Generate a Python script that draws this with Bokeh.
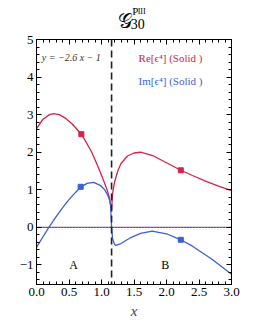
from bokeh.plotting import figure
from bokeh.models import Label, Range1d, LinearAxis, FixedTicker, Span
from bokeh.layouts import column
from bokeh.embed import file_html
from bokeh.resources import INLINE

# --- data ---
re_left_x = [0, 0.1, 0.2, 0.26, 0.35, 0.45, 0.55, 0.69, 0.75, 0.85, 0.95, 1.02, 1.09, 1.12, 1.14, 1.155]
re_left_y = [2.63, 2.88, 3.0, 3.03, 3.0, 2.9, 2.75, 2.48, 2.31, 2.0, 1.6, 1.3, 0.98, 0.8, 0.6, 0.45]
re_right_x = [1.155, 1.17, 1.2, 1.25, 1.3, 1.4, 1.5, 1.6, 1.8, 2.0, 2.22, 2.4, 2.6, 2.8, 3.0]
re_right_y = [0.45, 0.9, 1.2, 1.5, 1.7, 1.9, 1.98, 2.0, 1.9, 1.72, 1.52, 1.38, 1.23, 1.1, 0.98]
im_left_x = [0, 0.1, 0.19, 0.3, 0.4, 0.5, 0.6, 0.68, 0.78, 0.88, 0.98, 1.05, 1.09, 1.12, 1.14, 1.155]
im_left_y = [-0.53, -0.25, 0.0, 0.28, 0.52, 0.74, 0.93, 1.08, 1.17, 1.2, 1.12, 1.0, 0.88, 0.75, 0.58, 0.0]
im_right_x = [1.155, 1.17, 1.2, 1.22, 1.3, 1.45, 1.6, 1.78, 2.0, 2.22, 2.4, 2.7, 3.0]
im_right_y = [0.0, -0.3, -0.45, -0.48, -0.43, -0.27, -0.16, -0.1, -0.17, -0.33, -0.5, -0.85, -1.25]
re_marker_x = [0.69, 2.22]
re_marker_y = [2.48, 1.52]
im_marker_x = [0.68, 2.22]
im_marker_y = [1.08, -0.33]
x_cut = 1.155
x_ticks = [0, 0.5, 1.0, 1.5, 2.0, 2.5, 3.0]
x_tick_labels = ["0.0", "0.5", "1.0", "1.5", "2.0", "2.5", "3.0"]
y_ticks = [-1, 0, 1, 2, 3, 4, 5]
y_tick_labels = ["\u22121", "0", "1", "2", "3", "4", "5"]

RED = "#d62247"
BLUE = "#3c5fd6"
SERIF = "Liberation Serif"

# ---- title strip ----
t = figure(width=267, height=31, output_backend="svg", toolbar_location=None,
           x_range=Range1d(0, 267), y_range=Range1d(31, 0),
           min_border=0)
t.axis.visible = False
t.grid.visible = False
t.outline_line_color = None

def tlab(x, y, text, size):
    t.add_layout(Label(x=x, y=y, text=text, text_font=SERIF, text_font_size=size,
                       text_color="black", text_align="left", text_baseline="alphabetic"))

tlab(111, 20, "\U0001D4A2", "20px")
tlab(129, 23, "30", "14px")
tlab(131, 10, "P", "11px")
tlab(138.5, 11, "III", "8px")

# ---- main plot ----
p = figure(width=267, height=301, output_backend="svg", toolbar_location=None,
           x_range=Range1d(0, 3), y_range=Range1d(-1.52, 5),
           min_border_left=36, min_border_right=36, min_border_top=8, min_border_bottom=48)
p.grid.visible = False
p.outline_line_color = "black"
p.background_fill_color = "white"

def style_axis(ax):
    ax.axis_line_color = "black"
    ax.major_tick_in = 5
    ax.major_tick_out = 0
    ax.minor_tick_in = 3
    ax.minor_tick_out = 0
    ax.major_tick_line_color = "black"
    ax.minor_tick_line_color = "black"
    ax.major_label_text_font = SERIF
    ax.major_label_text_font_size = "13px"
    ax.major_label_text_color = "black"

xt = FixedTicker(ticks=x_ticks, minor_ticks=[i * 0.1 for i in range(31)])
yt = FixedTicker(ticks=y_ticks, minor_ticks=[-1.4 + i * 0.2 for i in range(33)])

p.xaxis.ticker = xt
p.yaxis.ticker = yt
p.xaxis.major_label_overrides = {tk: l for tk, l in zip(x_ticks, x_tick_labels)}
p.yaxis.major_label_overrides = {tk: l for tk, l in zip(y_ticks, y_tick_labels)}
style_axis(p.xaxis[0])
style_axis(p.yaxis[0])
p.xaxis.axis_label = "x"
p.xaxis.axis_label_text_font = SERIF
p.xaxis.axis_label_text_font_style = "italic"
p.xaxis.axis_label_text_font_size = "15px"
p.xaxis.axis_label_standoff = 4
p.xaxis.major_label_standoff = 3
p.yaxis.major_label_standoff = 3

top = LinearAxis(ticker=xt, major_label_overrides={tk: "" for tk in x_ticks}, major_label_standoff=0)
style_axis(top)
right = LinearAxis(ticker=yt, major_label_overrides={tk: "" for tk in y_ticks}, major_label_standoff=0)
style_axis(right)
p.add_layout(top, "above")
p.add_layout(right, "right")

# zero line (overlapping red/blue dashes)
p.line([0, 3], [0, 0], line_color=RED, line_width=1.2, line_dash="3 3")
p.line([0, 3], [0, 0], line_color=BLUE, line_width=1.2, line_dash="3 3", line_dash_offset=3)

# vertical dashed cut
p.add_layout(Span(location=x_cut, dimension="height", line_color="#222222",
                  line_width=1.6, line_dash="7 4"))

for xs, ys, c in [(re_left_x, re_left_y, RED), (re_right_x, re_right_y, RED),
                  (im_left_x, im_left_y, BLUE), (im_right_x, im_right_y, BLUE)]:
    p.line(xs, ys, line_color=c, line_width=1.3)

p.scatter(re_marker_x, re_marker_y, marker="square", size=5, color=RED)
p.scatter(im_marker_x, im_marker_y, marker="square", size=5, color=BLUE)

def lab(x, y, text, size, color="black", style="normal", align="left"):
    p.add_layout(Label(x=x, y=y, text=text, text_font=SERIF, text_font_size=size,
                       text_color=color, text_font_style=style, text_align=align,
                       text_baseline="middle"))

lab(0.08, 4.52, "y  =   \u22122.6 x \u2212 1", "10px", color="#333333", style="italic")
lab(1.57, 4.52, "Re[\u03f5\u2074] (Solid )", "11px", color=RED)
lab(1.57, 3.9, "Im[\u03f5\u2074] (Solid )", "11px", color=BLUE)
lab(0.57, -1.0, "A", "12px", align="center")
lab(1.98, -1.0, "B", "12px", align="center")

open("out.html", "w").write(file_html(column(t, p, spacing=0), INLINE))
